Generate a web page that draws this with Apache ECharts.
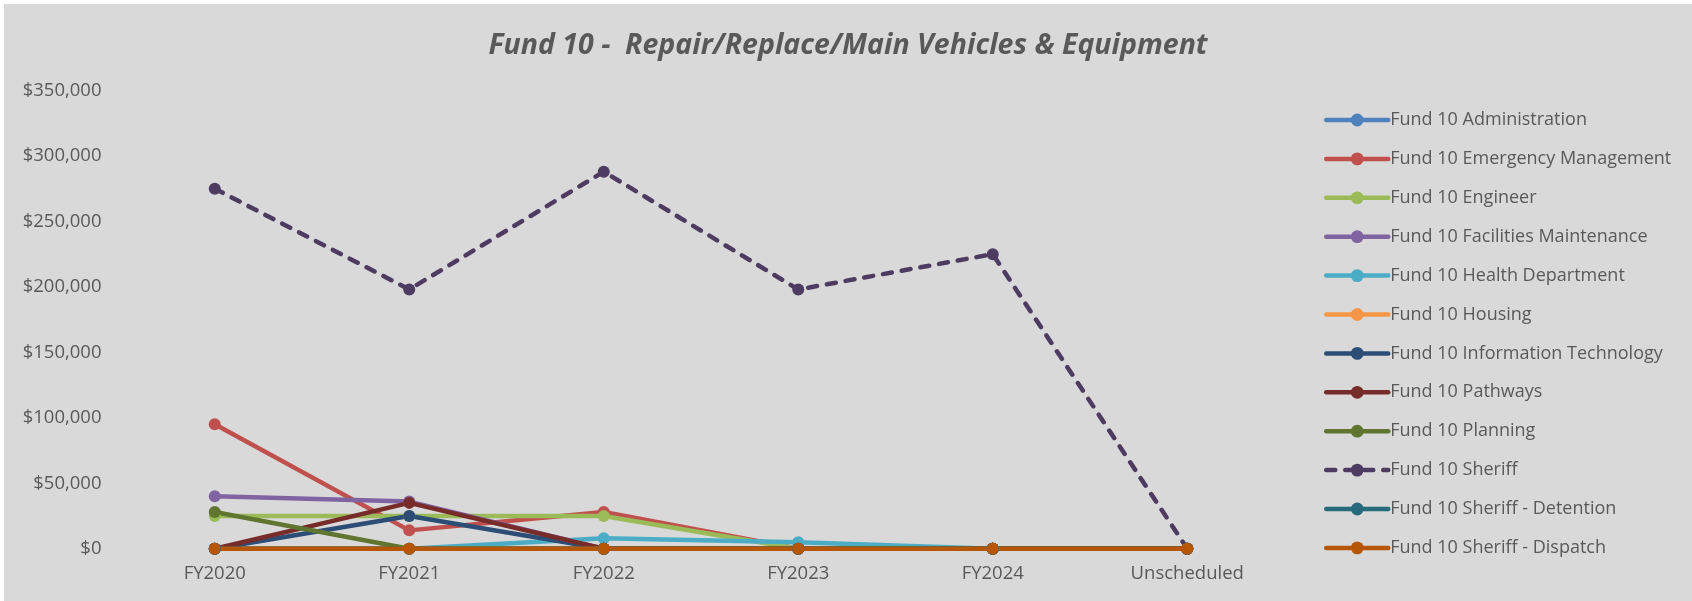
<!DOCTYPE html>
<html>
<head>
<meta charset="utf-8">
<title>Fund 10 - Repair/Replace/Main Vehicles & Equipment</title>
<script src="https://cdn.jsdelivr.net/npm/echarts@6/dist/echarts.min.js"></script>
<style>
  html, body {
    margin: 0;
    padding: 0;
    background: #ffffff;
  }
  #chart {
    position: absolute;
    left: 4px;
    top: 4px;
    width: 1688px;
    height: 597px;
    background: #d9d9d9;
  }
</style>
</head>
<body>
<div id="chart"></div>
<script>
// categories and values
const years = ['FY2020', 'FY2021', 'FY2022', 'FY2023', 'FY2024', 'Unscheduled']
const yTicks = [0, 50000, 100000, 150000, 200000, 250000, 300000, 350000]

const administration = [0, 0, 0, 0, 0, 0]
const emergencyManagement = [95000, 14000, 28000, 0, 0, 0]
const engineer = [25000, 25000, 25000, 0, 0, 0]
const facilitiesMaintenance = [40000, 36000, 0, 0, 0, 0]
const healthDepartment = [0, 0, 8000, 5000, 0, 0]
const housing = [0, 0, 0, 0, 0, 0]
const informationTechnology = [0, 25000, 0, 0, 0, 0]
const pathways = [0, 35000, 0, 0, 0, 0]
const planning = [28000, 0, 0, 0, 0, 0]
const sheriff = [275000, 198000, 288000, 198000, 225000, 0]
const sheriffDetention = [0, 0, 0, 0, 0, 0]
const sheriffDispatch = [0, 0, 0, 0, 0, 0]

const seriesList = [
  { name: 'Fund 10 Administration', data: administration, color: '#4f81bd' },
  { name: 'Fund 10 Emergency Management', data: emergencyManagement, color: '#c0504d' },
  { name: 'Fund 10 Engineer', data: engineer, color: '#9bbb59' },
  { name: 'Fund 10 Facilities Maintenance', data: facilitiesMaintenance, color: '#8064a2' },
  { name: 'Fund 10 Health Department', data: healthDepartment, color: '#4bacc6' },
  { name: 'Fund 10 Housing', data: housing, color: '#f79646' },
  { name: 'Fund 10 Information Technology', data: informationTechnology, color: '#2c4d75' },
  { name: 'Fund 10 Pathways', data: pathways, color: '#772c2a' },
  { name: 'Fund 10 Planning', data: planning, color: '#5f7530' },
  { name: 'Fund 10 Sheriff', data: sheriff, color: '#4d3b62', dashed: true },
  { name: 'Fund 10 Sheriff - Detention', data: sheriffDetention, color: '#276a7c' },
  { name: 'Fund 10 Sheriff - Dispatch', data: sheriffDispatch, color: '#b65708' }
]

const font = '"Open Sans", "Noto Sans", sans-serif'
const textColor = '#595959'

const chart = echarts.init(document.getElementById('chart'), null, { renderer: 'canvas' })

const option = {
  backgroundColor: '#d9d9d9',
  animation: false,
  title: {
    text: 'Fund 10 -  Repair/Replace/Main Vehicles & Equipment',
    left: 'center',
    top: 22,
    textStyle: {
      fontFamily: font,
      fontStyle: 'italic',
      fontWeight: 'bold',
      fontSize: 28.5,
      color: textColor
    }
  },
  legend: {
    orient: 'vertical',
    left: 1315,
    top: 101,
    itemWidth: 62,
    itemHeight: 16,
    itemGap: 18.9,
    lineStyle: { width: 4.5, cap: 'round' },
    textStyle: {
      fontFamily: font,
      fontSize: 18,
      lineHeight: 20,
      color: textColor,
      padding: [0, 0, 0, -3]
    },
    data: seriesList.map(s => s.name)
  },
  grid: {
    left: 113.5,
    right: 407.5,
    top: 86.5,
    bottom: 52.3
  },
  xAxis: {
    type: 'category',
    data: years,
    boundaryGap: true,
    axisLine: { show: false },
    axisTick: { show: false },
    axisLabel: {
      margin: 16,
      fontFamily: font,
      fontSize: 18.5,
      color: textColor
    }
  },
  yAxis: {
    type: 'value',
    min: yTicks[0],
    max: yTicks[yTicks.length - 1],
    interval: yTicks[1] - yTicks[0],
    splitLine: { show: false },
    axisLine: { show: false },
    axisTick: { show: false },
    axisLabel: {
      margin: 16,
      fontFamily: font,
      fontSize: 18.5,
      color: textColor,
      formatter: function(value) {
        return '$' + value.toLocaleString('en-US')
      }
    }
  },
  series: seriesList.map(s => ({
    name: s.name,
    type: 'line',
    data: s.data,
    symbol: 'circle',
    symbolSize: 12,
    showSymbol: true,
    color: s.color,
    itemStyle: { color: s.color },
    lineStyle: {
      color: s.color,
      width: 4.5,
      type: s.dashed ? [9, 10] : 'solid',
      cap: 'round'
    }
  }))
}

chart.setOption(option)
</script>
</body>
</html>
